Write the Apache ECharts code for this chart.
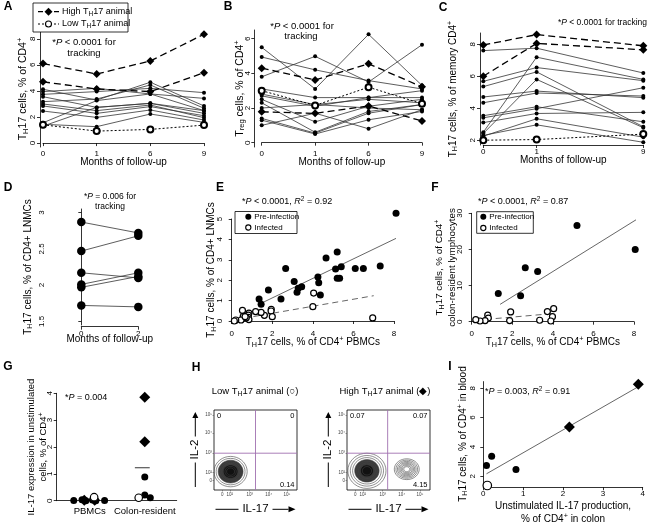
<!DOCTYPE html>
<html>
<head>
<meta charset="utf-8">
<script src="https://cdn.jsdelivr.net/npm/echarts@6/dist/echarts.min.js"></script>
<style>
html, body { margin: 0; padding: 0; background: #fff; }
#chart { width: 649px; height: 525px; }
</style>
</head>
<body>
<div id="chart"></div>
<script>
// values
const monthsAB = ['0', '1', '6', '9'];
const monthsC = ['0', '1', '', '9'];

// A: TH17 cells, % of CD4+
const aHigh = [[6.1, 5.3, 6.3, 8.35], [4.7, 4.15, 3.95, 5.4]];
const aLow = [1.4, 0.92, 1.05, 1.38];
const aOther = [
    [4.13, 3.3, 4.67, 2.85],
    [3.95, 4.2, 3.77, 2.49],
    [3.74, 3.95, 4.2, 3.87],
    [3.56, 2.74, 3.05, 2.28],
    [3.18, 3.38, 4.46, 2.67],
    [3.0, 2.49, 2.92, 1.95],
    [2.85, 2.28, 2.8, 2.1],
    [2.46, 1.97, 2.54, 1.77],
    [1.56, 3.26, 3.77, 3.43],
    [1.44, 1.26, 2.23, 1.59],
    [1.3, 2.74, 3.05, 2.49]
];

// B: Treg cells, % of CD4+
const bHigh = [[4.3, 3.62, 4.55, 3.22], [1.78, 1.69, 2.12, 1.25]];
const bLow = [3.0, 2.15, 3.2, 2.25];
const bOther = [
    [5.5, 3.1, 6.25, 3.3],
    [4.94, 4.2, 3.58, 3.1],
    [3.8, 4.98, 3.5, 5.65],
    [3.1, 2.6, 2.6, 2.6],
    [2.8, 2.2, 2.5, 2.3],
    [2.7, 2.1, 2.6, 3.0],
    [2.5, 1.2, 2.1, 2.5],
    [2.3, 0.6, 1.8, 2.2],
    [2.0, 2.2, 2.0, 1.9],
    [1.4, 0.55, 1.7, 2.2],
    [1.3, 0.5, 1.32, 1.8],
    [1.0, 1.7, 0.8, 1.9]
];

// C: TH17 cells, % of memory CD4+ (months 0, 1, 9)
const cHigh = [[7.95, 8.6, 7.9], [6.0, 8.05, 7.65]];
const cLow = [2.0, 2.04, 2.38];
const cOther = [
    [7.6, 7.75, 6.2],
    [2.5, 7.19, 5.8],
    [5.68, 6.54, 5.72],
    [5.35, 6.27, 2.84],
    [2.42, 5.8, 2.78],
    [4.7, 5.07, 4.66],
    [4.34, 4.95, 4.76],
    [3.53, 4.09, 3.15],
    [3.4, 3.97, 5.28],
    [3.1, 3.67, 3.74],
    [2.25, 3.34, 2.19],
    [2.3, 2.96, 1.87]
];

// D: LNMC pairs, month 0 -> month 2
const dMonths = [0, 2];
const dPairs = [[2.87, 2.72], [2.47, 2.68], [2.17, 2.10], [2.01, 2.17], [1.97, 2.12], [1.72, 1.70]];

// E: blood vs LNMC
const ePre = [[8.1, 5.28], [7.32, 2.7], [6.49, 2.57], [6.09, 2.57], [5.4, 2.66], [5.2, 3.38], [5.12, 2.55],
    [4.65, 3.09], [5.2, 2.09], [5.32, 2.09], [4.25, 2.16], [4.29, 1.88], [4.37, 1.27], [3.45, 1.68],
    [3.28, 1.6], [3.22, 1.41], [3.08, 1.94], [2.66, 2.57], [2.43, 1.08], [1.81, 1.52], [1.35, 1.08], [1.45, 0.82]];
const eInf = [[4.04, 1.37], [4.0, 0.7], [6.95, 0.15], [1.95, 0.57], [1.94, 0.49], [2.0, 0.21], [1.61, 0.28],
    [1.45, 0.42], [1.18, 0.46], [0.85, 0.39], [0.82, 0.29], [0.53, 0.52], [0.82, 0.18], [0.85, 0.07],
    [0.72, 0.16], [0.57, 0.23], [0.46, 0.05], [0.2, 0.05], [0.13, 0.0], [0.66, 0.21]];
const eFitPre = [[1.35, 0.82], [8.1, 4.05]];
const eFitInf = [[0.1, 0.05], [7.0, 1.24]];

// F: blood vs colon
const fPre = [[5.19, 26.6], [8.06, 20.0], [2.64, 14.9], [3.25, 13.9], [1.31, 7.8], [2.41, 7.2]];
const fInf = [[4.04, 3.6], [3.73, 2.8], [3.98, 1.4], [3.9, 0.2], [3.35, 0.4], [1.92, 2.7], [1.87, 0.3],
    [0.79, 1.8], [0.82, 1.0], [0.66, 0.3], [0.41, 0.2], [0.2, 0.55]];
const fFitPre = [[1.4, 4.8], [8.1, 28.2]];
const fFitInf = [[0.2, 0.4], [3.9, 2.2]];

// G: unstimulated IL-17 (x = group position with jitter)
const gGroups = ['PBMCs', 'Colon-resident'];
const gPbmcDot = [[0.71, 0.01], [0.86, 0.04], [0.93, 0.0], [1.05, 0.03], [1.11, 0.0], [1.27, 0.01]];
const gPbmcDiamond = [[0.9, 0.02], [1.09, 0.02]];
const gPbmcOpen = [[1.08, 0.13]];
const gColonDot = [[2.0, 0.88], [2.0, 0.21], [2.1, 0.11]];
const gColonDiamond = [[2.0, 3.85], [2.0, 2.2]];
const gColonOpen = [[1.89, 0.11]];

// H: flow plots (axis units 0-100), blobs [cx, cy, rx, ry, dark fraction]
const hLowBlobs = [[20, 23, 20, 19, 0.75]];
const hHighBlobs = [[24, 24, 23, 22, 0.7], [72, 26, 15, 13, 0]];
const hLowGate = [50, 46];
const hHighGate = [49, 46];
const hLowQuad = ['0', '0', '0.14'];
const hHighQuad = ['0.07', '0.07', '4.15'];
const ringFractions = [1, 0.87, 0.75, 0.64, 0.54, 0.44, 0.34, 0.24];

// I: IL-17 in colon vs TH17 in blood
const iDot = [[0.82, 2.47], [0.21, 3.37], [0.08, 2.74]];
const iDiamond = [[3.89, 8.27], [2.16, 5.35]];
const iOpen = [[0.1, 1.37]];

const FONT = '"Liberation Sans", Arial, sans-serif';

function richFor(fs) {
    return {
        n: { fontSize: fs, fontFamily: FONT, color: '#000', fill: '#000', lineHeight: fs * 1.25 },
        i: { fontSize: fs, fontFamily: FONT, fontStyle: 'italic', color: '#000', fill: '#000', lineHeight: fs * 1.25 },
        s: { fontSize: fs * 0.72, fontFamily: FONT, color: '#000', fill: '#000', lineHeight: fs * 0.55, verticalAlign: 'bottom' },
        sup: { fontSize: fs * 0.72, fontFamily: FONT, color: '#000', fill: '#000', lineHeight: fs * 0.55, verticalAlign: 'top' }
    };
}

function axisBase(extra) {
    return Object.assign({
        axisLine: { show: true, lineStyle: { color: '#000', width: 0.8 } },
        axisTick: { show: true, length: 3, lineStyle: { color: '#000', width: 0.8 } },
        axisLabel: { color: '#000', fontSize: 8, margin: 3, fontFamily: FONT },
        splitLine: { show: false },
        nameLocation: 'middle',
        nameMoveOverlap: false,
        nameTextStyle: { fontSize: 10, fontFamily: FONT, color: '#000', rich: richFor(10) }
    }, extra);
}

function yVal(gi, min, max, ticks, name, gap, offset, fs) {
    const ax = axisBase({ gridIndex: gi, type: 'value', min: min, max: max, name: name, nameGap: gap, offset: offset });
    ax.axisLabel = Object.assign({}, ax.axisLabel, { rotate: 90 });
    if (ticks) {
        ax.axisLabel.customValues = ticks;
        ax.axisTick = Object.assign({}, ax.axisTick, { customValues: ticks });
    }
    if (fs) ax.nameTextStyle = { fontSize: fs, fontFamily: FONT, color: '#000', rich: richFor(fs) };
    return ax;
}

function xVal(gi, min, max, interval, name, gap, offset) {
    return axisBase({ gridIndex: gi, type: 'value', min: min, max: max, interval: interval, name: name, nameGap: gap, offset: offset });
}

function xCat(gi, cats, name) {
    const ax = axisBase({ gridIndex: gi, type: 'category', data: cats, boundaryGap: false, name: name, nameGap: 10 });
    const keep = (i, v) => v !== '';
    ax.axisTick = Object.assign({}, ax.axisTick, { interval: keep });
    ax.axisLabel = Object.assign({}, ax.axisLabel, { interval: keep });
    return ax;
}

const styles = {
    other: { symbol: 'circle', symbolSize: 4, lineStyle: { color: '#333', width: 0.8, type: 'solid' } },
    high: { symbol: 'diamond', symbolSize: 8, lineStyle: { color: '#000', width: 1.3, type: [7, 4] } },
    low: { symbol: 'emptyCircle', symbolSize: 6, lineStyle: { color: '#000', width: 1, type: [2, 2] } }
};

function track(gi, data, kind) {
    const st = styles[kind];
    return {
        type: 'line', xAxisIndex: gi, yAxisIndex: gi, data: data, connectNulls: true,
        symbol: st.symbol, symbolSize: st.symbolSize, lineStyle: st.lineStyle,
        itemStyle: { color: '#000', borderWidth: kind === 'low' ? 1 : 0 }, clip: false, silent: true, z: kind === 'other' ? 2 : 3
    };
}

function pts(gi, data, kind, size) {
    const open = kind === 'open';
    return {
        type: 'scatter', xAxisIndex: gi, yAxisIndex: gi, data: data,
        symbol: kind === 'diamond' ? 'diamond' : 'circle', symbolSize: size,
        itemStyle: { color: open ? '#fff' : '#000', borderColor: '#000', borderWidth: open ? 1.2 : 0, opacity: 1 },
        clip: false, silent: true, z: open ? 4 : 3
    };
}

function fit(gi, data, dashed) {
    return {
        type: 'line', xAxisIndex: gi, yAxisIndex: gi, data: data, symbol: 'none',
        lineStyle: { color: '#555', width: 0.9, type: dashed ? [6, 4] : 'solid' }, clip: false, silent: true, z: 2
    };
}

function lsq(points) {
    const n = points.length;
    const mx = points.reduce((s, p) => s + p[0], 0) / n;
    const my = points.reduce((s, p) => s + p[1], 0) / n;
    let sxy = 0, sxx = 0;
    points.forEach(p => { sxy += (p[0] - mx) * (p[1] - my); sxx += (p[0] - mx) * (p[0] - mx); });
    const b = sxy / sxx;
    const xs = points.map(p => p[0]);
    const x0 = Math.min(...xs), x1 = Math.max(...xs);
    return [[x0, my + b * (x0 - mx)], [x1, my + b * (x1 - mx)]];
}

function meanBar(gi, points, cx, halfL, halfR) {
    const m = points.reduce((s, p) => s + p[1], 0) / points.length;
    return {
        type: 'line', xAxisIndex: gi, yAxisIndex: gi, data: [[cx - halfL, m], [cx + halfR, m]], symbol: 'none',
        lineStyle: { color: '#000', width: 0.8 }, silent: true, z: 2
    };
}

function ellipsePts(c, rx, ry) {
    const out = [];
    for (let k = 0; k < 36; k++) {
        const t = k / 36 * Math.PI * 2;
        out.push([c[0] + rx * Math.cos(t), c[1] + ry * Math.sin(t)]);
    }
    return out;
}

function blobs(gi, data) {
    return {
        type: 'custom', xAxisIndex: gi, yAxisIndex: gi, data: data, silent: true, clip: true,
        renderItem: function (params, api) {
            const c = api.coord([api.value(0), api.value(1)]);
            const sz = api.size([api.value(2), api.value(3)]);
            const dark = api.value(4);
            return {
                type: 'group',
                children: ringFractions.map(f => ({
                    type: 'polygon',
                    shape: { points: ellipsePts(c, sz[0] * f, sz[1] * f) },
                    style: { fill: f <= dark ? (f <= dark * 0.6 ? '#111' : '#3a3a3a') : 'none', stroke: '#444', lineWidth: 0.6 }
                }))
            };
        }
    };
}

function gate(gi, g) {
    return [
        { type: 'line', xAxisIndex: gi, yAxisIndex: gi, data: [[g[0], 0], [g[0], 100]], symbol: 'none', lineStyle: { color: '#a070b0', width: 0.9 }, silent: true, z: 5 },
        { type: 'line', xAxisIndex: gi, yAxisIndex: gi, data: [[0, g[1]], [100, g[1]]], symbol: 'none', lineStyle: { color: '#a070b0', width: 0.9 }, silent: true, z: 5 }
    ];
}

function flowAxes(gi) {
    const xs = [10, 19, 43, 66, 88];
    const ys = [12, 22, 46, 71, 94];
    const labels = ['0', '10²', '10³', '10⁴', '10⁵'];
    const lab = { color: '#444', fontSize: 4.5, fontFamily: FONT, margin: 2 };
    return {
        x: {
            gridIndex: gi, type: 'value', min: 0, max: 100, axisLine: { show: false }, splitLine: { show: false },
            axisTick: { show: true, inside: false, length: 1.5, customValues: xs, lineStyle: { color: '#444', width: 0.5 } },
            axisLabel: Object.assign({ customValues: xs, formatter: v => labels[xs.indexOf(v)] }, lab)
        },
        y: {
            gridIndex: gi, type: 'value', min: 0, max: 100, axisLine: { show: false }, splitLine: { show: false },
            axisTick: { show: true, inside: false, length: 1.5, customValues: ys, lineStyle: { color: '#444', width: 0.5 } },
            axisLabel: Object.assign({ customValues: ys, formatter: v => labels[ys.indexOf(v)] }, lab)
        }
    };
}

// graphic helpers
function T(x, y, text, fs, o) {
    o = o || {};
    return {
        type: 'text', x: x, y: y, rotation: o.rot || 0, silent: true, z: 10,
        style: {
            text: text, fontFamily: FONT, fontSize: fs, fill: '#000', fontWeight: o.bold ? 'bold' : 'normal',
            align: o.align || 'center', verticalAlign: 'middle', rich: richFor(fs)
        }
    };
}
function L(x1, y1, x2, y2, o) {
    o = o || {};
    return {
        type: 'line', silent: true, z: 10, shape: { x1: x1, y1: y1, x2: x2, y2: y2 },
        style: { stroke: o.color || '#000', lineWidth: o.w || 1, lineDash: o.dash || null }
    };
}
function tri(points) {
    return { type: 'polygon', silent: true, z: 10, shape: { points: points }, style: { fill: '#000' } };
}
function dot(x, y, r, open) {
    return { type: 'circle', silent: true, z: 11, shape: { cx: x, cy: y, r: r }, style: { fill: open ? '#fff' : '#000', stroke: '#000', lineWidth: open ? 1.1 : 0 } };
}
function box(x, y, w, h) {
    return { type: 'rect', silent: true, z: 9, shape: { x: x, y: y, width: w, height: h }, style: { fill: '#fff', stroke: '#000', lineWidth: 0.8 } };
}

function hArrow(cx, y) {
    return [L(cx - 40, y, cx - 17, y), T(cx, y, 'IL-17', 11.5), L(cx + 17, y, cx + 33, y), tri([[cx + 33, y - 3], [cx + 40, y], [cx + 33, y + 3]])];
}
function vArrow(x, yBottom, yTop) {
    const mid = (yBottom + yTop) / 2;
    return [L(x, yBottom, x, mid + 13), T(x, mid, 'IL-2', 11.5, { rot: Math.PI / 2 }), L(x, mid - 13, x, yTop + 6), tri([[x - 3, yTop + 6], [x, yTop], [x + 3, yTop + 6]])];
}

const grids = [
    { left: 43, top: 31, width: 161, height: 116 },       // A
    { left: 261.7, top: 30, width: 160.3, height: 117 },  // B
    { left: 483.3, top: 33, width: 160, height: 112 },    // C
    { left: 81.3, top: 209, width: 57, height: 116 },     // D
    { left: 231.7, top: 219, width: 162.3, height: 102 }, // E
    { left: 471.7, top: 213.3, width: 162.3, height: 108.4 }, // F
    { left: 56.7, top: 393.3, width: 120, height: 107.4 },    // G
    { left: 214, top: 410, width: 83, height: 80, show: true, borderColor: '#000', borderWidth: 0.8 }, // H low
    { left: 347, top: 410, width: 83, height: 80, show: true, borderColor: '#000', borderWidth: 0.8 }, // H high
    { left: 483.3, top: 381.6, width: 159.4, height: 106 }  // I
];

const thName = rest => '{n|T}{s|H}{n|' + rest + '}';
const flowL = flowAxes(7), flowH = flowAxes(8);

const xAxes = [
    xCat(0, monthsAB, 'Months of follow-up'),
    xCat(1, monthsAB, 'Months of follow-up'),
    xCat(2, monthsC, 'Months of follow-up'),
    xVal(3, 0, 2, 2, 'Months of follow-up', 8, 1.7),
    xVal(4, 0, 8, 2, thName('17 cells, % of CD4') + '{sup|+}{n| PBMCs}', 9, 5.7),
    xVal(5, 0, 8, 2, thName('17 cells, % of CD4') + '{sup|+}{n| PBMCs}', 9, 5),
    Object.assign(axisBase({ gridIndex: 6, type: 'value', min: 0.4, max: 2.58, offset: 3 }), {
        axisTick: { show: false },
        axisLabel: { customValues: [1, 2], formatter: v => gGroups[v - 1], fontSize: 9.5, color: '#000', fontFamily: FONT, margin: 3 }
    }),
    flowL.x,
    flowH.x,
    xVal(9, 0, 4, 1, '{n|Unstimulated IL-17 production,}\n{n|% of CD4}{sup|+}{n| in colon}', 13, 0.7)
];

const yAxes = [
    yVal(0, -0.3, 8.6, [0, 2, 4, 6, 8], thName('17 cells, % of CD4') + '{sup|+}', 10.5, 3, 10.5),
    yVal(1, -0.25, 6.5, [0, 2, 4, 6], '{n|T}{s|reg}{n| cells, % of CD4}{sup|+}', 8, 7.4, 10.5),
    yVal(2, 1.7, 8.7, [2, 4, 6, 8], thName('17 cells, % of memory CD4') + '{sup|+}', 21, 3.3, 10),
    yVal(3, 1.45, 3.05, [1.5, 2, 2.5, 3], thName('17 cells, % of CD4+ LNMCs'), 15, 32.3, 10),
    yVal(4, 0, 5, null, thName('17 cells, % of CD4+ LNMCs'), 9, 5, 10),
    yVal(5, 0, 30, null, thName('17 cells, % of CD4') + '{sup|+}\n{n|colon-resident lymphocytes}', 8.7, 5, 9.8),
    yVal(6, 0, 4, null, '{n|IL-17 expression in unstimulated}\n{n|cells, % of CD4}{sup|+}', 7.7, 0, 9.5),
    flowL.y,
    flowH.y,
    yVal(9, 1.3, 8.45, [2, 4, 6, 8], thName('17 cells, % of CD4') + '{sup|+}{n| in blood}', 11, 3.3, 10)
];
yAxes[4].interval = 1;
yAxes[5].interval = 10;
yAxes[6].interval = 1;

const series = [];
aOther.forEach(r => series.push(track(0, r, 'other')));
aHigh.forEach(r => series.push(track(0, r, 'high')));
series.push(track(0, aLow, 'low'));

bOther.forEach(r => series.push(track(1, r, 'other')));
bHigh.forEach(r => series.push(track(1, r, 'high')));
series.push(track(1, bLow, 'low'));

const toC = r => [r[0], r[1], '-', r[2]];
cOther.forEach(r => series.push(track(2, toC(r), 'other')));
cHigh.forEach(r => series.push(track(2, toC(r), 'high')));
series.push(track(2, toC(cLow), 'low'));

dPairs.forEach(p => {
    const s = track(3, [[dMonths[0], p[0]], [dMonths[1], p[1]]], 'other');
    s.symbolSize = 8.5;
    series.push(s);
});

series.push(fit(4, eFitPre, false), fit(4, eFitInf, true));
series.push(pts(4, ePre, 'dot', 7), pts(4, eInf, 'open', 6));

series.push(fit(5, fFitPre, false), fit(5, fFitInf, true));
series.push(pts(5, fPre, 'dot', 7), pts(5, fInf, 'open', 6));

series.push(meanBar(6, gPbmcDot.concat(gPbmcDiamond, gPbmcOpen), 1, 0.18, 0.1));
series.push(meanBar(6, gColonDot.concat(gColonDiamond, gColonOpen), 2, 0.18, 0.09));
series.push(pts(6, gPbmcDot.concat(gColonDot), 'dot', 7));
series.push(pts(6, gPbmcDiamond.concat(gColonDiamond), 'diamond', 11));
series.push(pts(6, gPbmcOpen.concat(gColonOpen), 'open', 7.5));

series.push(blobs(7, hLowBlobs));
series.push(...gate(7, hLowGate));
series.push(blobs(8, hHighBlobs));
series.push(...gate(8, hHighGate));

series.push(fit(9, lsq(iDot.concat(iDiamond, iOpen)), false));
series.push(pts(9, iDot, 'dot', 7));
series.push(pts(9, iDiamond, 'diamond', 11));
series.push(pts(9, iOpen, 'open', 8.5));

const graphic = [
    // panel letters
    T(8, 7, 'A', 12, { bold: true }), T(228, 7, 'B', 12, { bold: true }), T(443, 8, 'C', 12, { bold: true }),
    T(8, 188, 'D', 12, { bold: true }), T(220, 188, 'E', 12, { bold: true }), T(435, 188, 'F', 12, { bold: true }),
    T(8, 367, 'G', 12, { bold: true }), T(196, 368, 'H', 12, { bold: true }), T(450, 367, 'I', 12, { bold: true }),

    // legend A
    box(33, 3, 95, 29),
    L(38, 11.7, 59, 11.7, { dash: [5, 3], w: 1.2 }),
    tri([[48.5, 7.7], [52.5, 11.7], [48.5, 15.7], [44.5, 11.7]]),
    T(62, 11.7, '{n|High T}{s|H}{n|17 animal}', 9, { align: 'left' }),
    L(38, 24, 59, 24, { dash: [2, 2] }),
    dot(48.5, 24, 3, true),
    T(62, 24, '{n|Low T}{s|H}{n|17 animal}', 9, { align: 'left' }),

    // p-values
    T(84, 42.7, '{n|*}{i|P}{n| < 0.0001 for}', 9.5), T(84, 53, '{n|tracking}', 9.5),
    T(302, 26, '{n|*}{i|P}{n| < 0.0001 for}', 9.5), T(301, 36, '{n|tracking}', 9.5),
    T(647, 22.7, '{n|*}{i|P}{n| < 0.0001 for tracking}', 8.5, { align: 'right' }),
    T(110, 196.7, '{n|*}{i|P}{n| = 0.006 for}', 8.5), T(110, 206.5, '{n|tracking}', 8.5),
    T(242, 201.7, '{n|*}{i|P}{n| < 0.0001, }{i|R}{sup|2}{n| = 0.92}', 9, { align: 'left' }),
    T(478, 201.7, '{n|*}{i|P}{n| < 0.0001, }{i|R}{sup|2}{n| = 0.87}', 9, { align: 'left' }),
    T(65, 397.7, '{n|*}{i|P}{n| = 0.004}', 9, { align: 'left' }),
    T(485, 391.7, '{n|*}{i|P}{n| = 0.003, }{i|R}{sup|2}{n| = 0.91}', 9, { align: 'left' }),

    // legend E
    box(235, 211.5, 62, 22),
    dot(248.3, 216.7, 3, false), T(254.3, 216.7, '{n|Pre-infection}', 8, { align: 'left' }),
    dot(248.3, 227.5, 2.6, true), T(254.3, 227.5, '{n|Infected}', 8, { align: 'left' }),
    // legend F
    box(476.7, 211.7, 56.6, 21.6),
    dot(483.3, 216.7, 3, false), T(489.3, 216.7, '{n|Pre-infection}', 8, { align: 'left' }),
    dot(483.3, 228, 2.6, true), T(489.3, 228, '{n|Infected}', 8, { align: 'left' }),

    // H titles and quadrant values
    T(255, 391.5, '{n|Low T}{s|H}{n|17 animal (○)}', 9.5),
    T(385, 391.5, '{n|High T}{s|H}{n|17 animal (◆)}', 9.5),
    T(217, 415.5, hLowQuad[0], 7.5, { align: 'left' }), T(294.5, 415.5, hLowQuad[1], 7.5, { align: 'right' }),
    T(294.5, 484.5, hLowQuad[2], 7.5, { align: 'right' }),
    T(350, 415.5, hHighQuad[0], 7.5, { align: 'left' }), T(427.5, 415.5, hHighQuad[1], 7.5, { align: 'right' }),
    T(427.5, 484.5, hHighQuad[2], 7.5, { align: 'right' })
].concat(hArrow(255.5, 509.3), hArrow(388.5, 509.3), vArrow(195.3, 487, 412), vArrow(328.3, 487, 412));

const chart = echarts.init(document.getElementById('chart'), null, { renderer: 'canvas' });
chart.setOption({
    animation: false,
    backgroundColor: '#fff',
    textStyle: { fontFamily: FONT },
    grid: grids,
    xAxis: xAxes,
    yAxis: yAxes,
    series: series,
    graphic: graphic
});
</script>
</body>
</html>
